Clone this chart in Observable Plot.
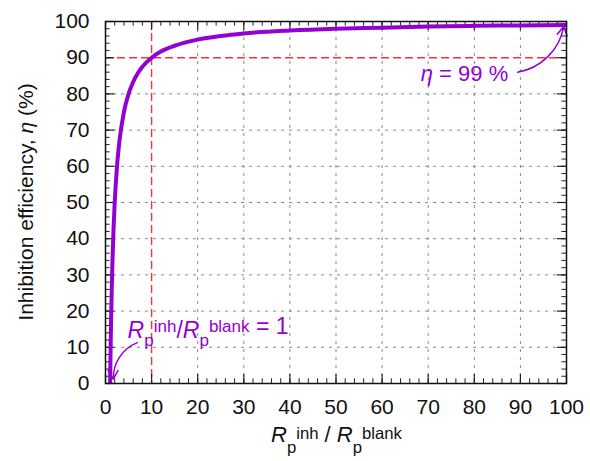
<!DOCTYPE html>
<html><head><meta charset="utf-8">
<script src="https://cdn.jsdelivr.net/npm/d3@7"></script>
<script src="https://cdn.jsdelivr.net/npm/@observablehq/plot@0.6"></script>
<style>body{margin:0;background:#fff}</style>
</head><body><div id="chart"></div>
<script>
// Data
const ratio = [1, 1.1, 1.2, 1.35, 1.5, 1.75, 2, 2.5, 3, 4, 5, 6, 7, 8, 10, 12, 15, 20, 25, 30, 40, 50, 60, 70, 80, 90, 100];
const eta   = [0, 9.1, 16.7, 25.9, 33.3, 42.9, 50, 60, 66.7, 75, 80, 83.3, 85.7, 87.5, 90, 91.7, 93.3, 95, 96, 96.7, 97.5, 98, 98.3, 98.6, 98.8, 98.9, 99];
const xTicks = [0,10,20,30,40,50,60,70,80,90,100];
const yTicks = [0,10,20,30,40,50,60,70,80,90,100];
const xMinor = d3.range(0, 101, 2);
const yMinor = d3.range(0, 101, 2);
const refX = [10];
const refY = [90];
// annotation arrows (data coords)
const arrow1 = [{x1: 89.4, y1: 86.0, x2: 99.4, y2: 98.6}];
const arrow2 = [{x1: 6.9, y1: 11.3, x2: 1.7, y2: 1.2}];
const purple = "#9400d3";

const curve = ratio.map((r, i) => ({r, e: eta[i]}));
const xGrid = xTicks.filter(v => v > 0 && v < 100 && !refX.includes(v));
const yGrid = yTicks.filter(v => v > 0 && v < 100 && !refY.includes(v));

const W = 590, H = 461;
const chart = Plot.plot({
  width: W, height: H,
  marginLeft: 105, marginRight: 24, marginTop: 21, marginBottom: 78,
  style: {fontFamily: "'Liberation Sans', Arial, sans-serif", background: "white"},
  x: {domain: [0, 100]},
  y: {domain: [0, 100]},
  marks: [
    Plot.ruleX(xGrid, {stroke: "#888", strokeWidth: 1, strokeDasharray: "3,5"}),
    Plot.ruleY(yGrid, {stroke: "#888", strokeWidth: 1, strokeDasharray: "3,5"}),
    Plot.ruleX(refX, {stroke: "#ff3030", strokeWidth: 1.4, strokeDasharray: "8,4"}),
    Plot.ruleY(refY, {stroke: "#ff3030", strokeWidth: 1.4, strokeDasharray: "8,4"}),
    // minor ticks
    Plot.ruleX(xMinor, {y1: 0, y2: 1.3, stroke: "#222", strokeWidth: 1}),
    Plot.ruleX(xMinor, {y1: 100, y2: 98.7, stroke: "#222", strokeWidth: 1}),
    Plot.ruleY(yMinor, {x1: 0, x2: 1.0, stroke: "#222", strokeWidth: 1}),
    Plot.ruleY(yMinor, {x1: 100, x2: 99.0, stroke: "#222", strokeWidth: 1}),
    // major ticks
    Plot.ruleX(xTicks, {y1: 0, y2: 2.5, stroke: "#222", strokeWidth: 1.2}),
    Plot.ruleX(xTicks, {y1: 100, y2: 97.5, stroke: "#222", strokeWidth: 1.2}),
    Plot.ruleY(yTicks, {x1: 0, x2: 2.0, stroke: "#222", strokeWidth: 1.2}),
    Plot.ruleY(yTicks, {x1: 100, x2: 98.0, stroke: "#222", strokeWidth: 1.2}),
    Plot.line(curve, {x: "r", y: "e", stroke: purple, strokeWidth: 4, curve: "monotone-x", clip: true}),
    Plot.arrow(arrow1, {x1: "x1", y1: "y1", x2: "x2", y2: "y2", bend: -35, stroke: purple, strokeWidth: 1.5, headLength: 10}),
    Plot.arrow(arrow2, {x1: "x1", y1: "y1", x2: "x2", y2: "y2", bend: -35, stroke: purple, strokeWidth: 1.5, headLength: 10}),
    Plot.frame({stroke: "#111", strokeWidth: 1.5}),
    Plot.axisX(xTicks, {tickSize: 0, tickPadding: 16, fontSize: 21, fill: "#111", label: null}),
    Plot.axisY(yTicks, {tickSize: 0, tickPadding: 16, fontSize: 21, fill: "#111", label: null})
  ]
});
document.getElementById("chart").appendChild(chart);

const svg = d3.select(chart);
const sx = chart.scale("x"), sy = chart.scale("y");
const ff = "'Liberation Sans', Arial, sans-serif";

// y axis label
const yl = svg.append("text")
  .attr("transform", `translate(33,${(sy.apply(0)+sy.apply(100))/2}) rotate(-90)`)
  .attr("text-anchor", "middle").attr("font-family", ff).attr("font-size", 21).attr("fill", "#111");
yl.append("tspan").text("Inhibition efficiency, ");
yl.append("tspan").attr("font-style", "italic").text("η");
yl.append("tspan").text(" (%)");

function ratioText(g, size, ratioS, sup, sub, sep) {
  const s = size * ratioS;
  g.append("tspan").attr("font-style", "italic").text("R");
  g.append("tspan").attr("font-size", s).attr("dy", sub).text("p");
  g.append("tspan").attr("font-size", s).attr("dy", -sub - sup).text("inh");
  g.append("tspan").attr("dy", sup).text(sep);
  g.append("tspan").attr("font-style", "italic").text("R");
  g.append("tspan").attr("font-size", s).attr("dy", sub).text("p");
  g.append("tspan").attr("font-size", s).attr("dy", -sub - sup).text("blank");
}
// x axis label
const xl = svg.append("text")
  .attr("x", (sx.apply(0)+sx.apply(100))/2 + 1).attr("y", 442)
  .attr("text-anchor", "middle").attr("font-family", ff).attr("font-size", 22).attr("fill", "#111");
ratioText(xl, 22, 0.76, 3, 11, " / ");

// annotation 1
const a1 = svg.append("text").attr("x", sx.apply(68.5)).attr("y", sy.apply(83.5))
  .attr("text-anchor", "start")
  .attr("font-family", ff).attr("font-size", 22).attr("fill", purple);
a1.append("tspan").attr("font-style", "italic").text("η");
a1.append("tspan").text(" = 99 %");

// annotation 2
const a2 = svg.append("text").attr("x", sx.apply(4.9)).attr("y", sy.apply(12.4))
  .attr("text-anchor", "start")
  .attr("font-family", ff).attr("font-size", 23).attr("fill", purple);
ratioText(a2, 23, 0.74, 6, 8, "/");
a2.append("tspan").attr("dy", 2).text(" = 1");
</script>
</body></html>
